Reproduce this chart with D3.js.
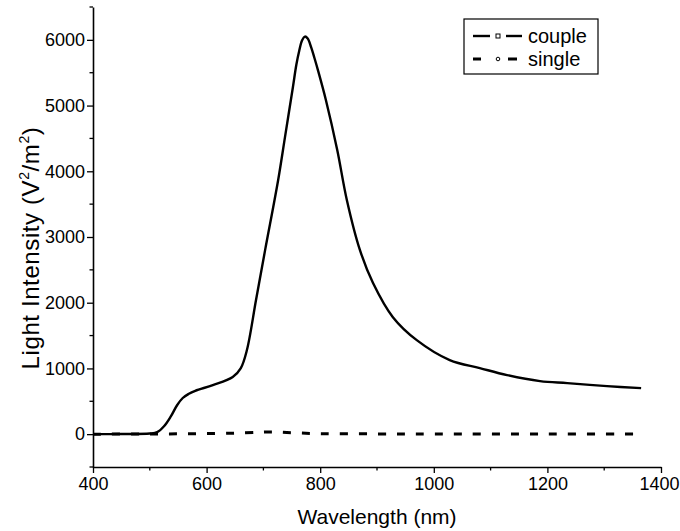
<!DOCTYPE html>
<html>
<head>
<meta charset="utf-8">
<script src="https://cdn.jsdelivr.net/npm/d3@7"></script>
<style>
  body { margin: 0; background: #fff; }
  svg text { font-family: "Liberation Sans", Arial, sans-serif; fill: #000; }
</style>
</head>
<body>
<div class="graph"></div>
<script>
// Longitud de onda (nm) e intensidad de la curva "couple"
const coupleX = [400, 450, 500, 513, 525, 537, 548, 558, 568, 580, 611, 646, 660, 671, 687, 703, 726, 738, 752, 758, 763, 768, 773, 778, 784, 790, 796, 810, 830, 847, 870, 893, 928, 970, 1028, 1081, 1129, 1187, 1235, 1305, 1365];
const coupleY = [0, 2, 10, 30, 120, 270, 440, 550, 610, 660, 746, 868, 1000, 1280, 2040, 2800, 3868, 4520, 5283, 5620, 5830, 5990, 6050, 6020, 5890, 5720, 5540, 5086, 4325, 3560, 2800, 2300, 1780, 1430, 1127, 1005, 898, 807, 776, 731, 700];

// Curva "single"
const singleX = [400, 500, 550, 600, 650, 690, 710, 730, 760, 800, 900, 1000, 1200, 1365];
const singleY = [0, 2, 5, 8, 15, 28, 33, 30, 18, 8, 4, 2, 1, 1];

const xTicks = [400, 600, 800, 1000, 1200, 1400];
const yTicks = [0, 1000, 2000, 3000, 4000, 5000, 6000];
const legendNames = ["couple", "single"];

const width = 680, height = 531;
const svg = d3.select(".graph").append("svg")
    .attr("width", width)
    .attr("height", height);

const xScale = d3.scaleLinear().domain([400, 1400]).range([93, 661]);
const yScale = d3.scaleLinear().domain([-500, 6500]).range([467, 7]);

// Ejes
const xAxis = d3.axisBottom(xScale).tickValues(xTicks).tickFormat(d3.format("d"))
    .tickSize(6).tickSizeOuter(0).tickPadding(4);
const gx = svg.append("g").attr("transform", "translate(0,467)").call(xAxis);
gx.append("g").selectAll("line")
    .data(d3.range(500, 1400, 200))
    .enter().append("line")
    .attr("x1", d => xScale(d)).attr("x2", d => xScale(d))
    .attr("y1", 0).attr("y2", 3.5)
    .attr("stroke", "#000").attr("stroke-width", 1.3);

const yAxis = d3.axisLeft(yScale).tickValues(yTicks).tickFormat(d3.format("d"))
    .tickSize(6).tickSizeOuter(0).tickPadding(2);
const gy = svg.append("g").attr("transform", "translate(93,0)").call(yAxis);
gy.append("g").selectAll("line")
    .data(d3.range(-500, 6600, 1000))
    .enter().append("line")
    .attr("x1", 0).attr("x2", -3.5)
    .attr("y1", d => yScale(d)).attr("y2", d => yScale(d))
    .attr("stroke", "#000").attr("stroke-width", 1.3);

svg.selectAll(".domain").attr("stroke-width", 1.6);
svg.selectAll(".tick line").attr("stroke-width", 1.3);
svg.selectAll(".tick text").attr("font-size", 18);
gx.selectAll(".tick text").filter(d => d === 1400).attr("dx", -2);

// Títulos de ejes
svg.append("text")
    .attr("x", 377).attr("y", 524)
    .attr("text-anchor", "middle")
    .attr("font-size", 21)
    .text("Wavelength (nm)");

const yTitle = svg.append("text")
    .attr("transform", "translate(39,248) rotate(-90)")
    .attr("text-anchor", "middle")
    .attr("font-size", 24)
    .attr("letter-spacing", 0.6);
yTitle.append("tspan").text("Light Intensity (V");
yTitle.append("tspan").attr("font-size", 14).attr("dy", -10).text("2");
yTitle.append("tspan").attr("dy", 10).text("/m");
yTitle.append("tspan").attr("font-size", 14).attr("dy", -10).text("2");
yTitle.append("tspan").attr("dy", 10).text(")");

// Líneas
const line = d3.line()
    .x(d => xScale(d[0]))
    .y(d => yScale(d[1]))
    .curve(d3.curveCatmullRom.alpha(0.5));

svg.append("path")
    .datum(d3.zip(singleX, singleY))
    .attr("d", line)
    .attr("fill", "none")
    .attr("stroke", "#000")
    .attr("stroke-width", 3)
    .attr("stroke-dasharray", "8,11");

svg.append("path")
    .datum(d3.zip(coupleX, coupleY))
    .attr("d", line)
    .attr("fill", "none")
    .attr("stroke", "#000")
    .attr("stroke-width", 2.4);

// Leyenda
const legend = svg.append("g");
legend.append("rect")
    .attr("x", 464).attr("y", 19)
    .attr("width", 134).attr("height", 55)
    .attr("fill", "#fff").attr("stroke", "#000").attr("stroke-width", 1.2);

legendNames.forEach(function (name, k) {
    const y = 36 + k * 23;
    if (k === 0) {
        legend.append("line").attr("x1", 473).attr("x2", 490).attr("y1", y).attr("y2", y)
            .attr("stroke", "#000").attr("stroke-width", 2.4);
        legend.append("line").attr("x1", 506).attr("x2", 522).attr("y1", y).attr("y2", y)
            .attr("stroke", "#000").attr("stroke-width", 2.4);
        legend.append("rect").attr("x", 496).attr("y", y - 2).attr("width", 4).attr("height", 4)
            .attr("fill", "#fff").attr("stroke", "#000").attr("stroke-width", 1);
    } else {
        legend.append("line").attr("x1", 473).attr("x2", 481).attr("y1", y).attr("y2", y)
            .attr("stroke", "#000").attr("stroke-width", 3);
        legend.append("line").attr("x1", 508).attr("x2", 517).attr("y1", y).attr("y2", y)
            .attr("stroke", "#000").attr("stroke-width", 3);
        legend.append("circle").attr("cx", 498).attr("cy", y).attr("r", 1.8)
            .attr("fill", "#fff").attr("stroke", "#000").attr("stroke-width", 1);
    }
    legend.append("text")
        .attr("x", 528).attr("y", y + 7)
        .attr("font-size", 20)
        .text(name);
});
</script>
</body>
</html>
